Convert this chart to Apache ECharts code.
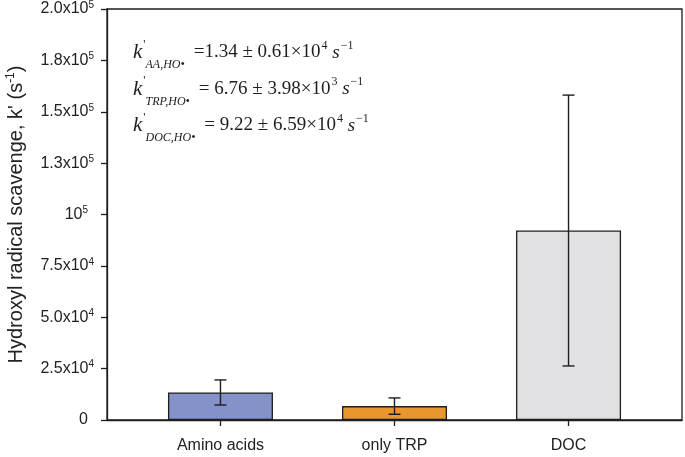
<!DOCTYPE html>
<html>
<head>
<meta charset="utf-8">
<script src="https://cdn.jsdelivr.net/npm/echarts@6/dist/echarts.min.js"></script>
<style>html,body{margin:0;padding:0;background:#fff;}#c{width:685px;height:457px;}</style>
</head>
<body>
<div id="c"></div>
<script>
// ---- data ----
var categories = ['Amino acids', 'only TRP', 'DOC'];
var values = [13400, 6760, 92200];
var errors = [6100, 3980, 65900];
var barColors = ['#8591c9', '#e8962e', '#e1e1e3'];
var yTickValues = [0, 25000, 50000, 75000, 100000, 125000, 150000, 175000, 200000];
var yTickMant = ['0', '2.5x10', '5.0x10', '7.5x10', '10', '1.3x10', '1.5x10', '1.8x10', '2.0x10'];
var yTickExp = ['', '4', '4', '4', '5', '5', '5', '5', '5'];
var annSub = ['AA,HO•', 'TRP,HO•', 'DOC,HO•'];
var annMain = ['=1.34 ± 0.61×10', '= 6.76 ± 3.98×10', '= 9.22 ± 6.59×10'];
var annExp = ['4', '3', '4'];

var chart = echarts.init(document.getElementById('c'), null, {renderer: 'canvas'});

var barData = values.map(function (v, i) {
  return {value: [i + 1, v], itemStyle: {color: barColors[i]}};
});
var errData = values.map(function (v, i) {
  return [i + 1, v - errors[i], v + errors[i]];
});

var ink = '#1e1e1e';
var sans = 'Liberation Sans, Arial, sans-serif';
var serif = 'Liberation Serif, Times New Roman, serif';

var annGraphics = annSub.map(function (s, i) {
  return {
    type: 'text',
    left: 133,
    top: 34 + i * 36.5,
    style: {
      text: '{k|k}{pr|\'}{sub|' + s + '}{m|' + annMain[i] + '}{sp|' + annExp[i] + '}{gap| }{s|s}{sp|−1}',
      rich: {
        k: {fontFamily: serif, fontStyle: 'italic', fontSize: 21, lineHeight: 24, fill: ink},
        pr: {fontFamily: serif, fontSize: 12, lineHeight: 12, padding: [0, 0, 16, 1], fill: ink},
        sub: {fontFamily: serif, fontStyle: 'italic', fontSize: 12, lineHeight: 12, padding: [25, 0, 0, 0], fill: ink},
        m: {fontFamily: serif, fontSize: 19, lineHeight: 24, padding: [0, 0, 0, 9], fill: ink},
        gap: {fontFamily: serif, fontSize: 19, lineHeight: 24, fill: ink},
        sp: {fontFamily: serif, fontSize: 12, lineHeight: 12, padding: [0, 0, 14, 1], fill: ink},
        s: {fontFamily: serif, fontStyle: 'italic', fontSize: 19, lineHeight: 24, fill: ink}
      }
    }
  };
});

var option = {
  animation: false,
  backgroundColor: '#ffffff',
  grid: {
    left: 107, right: 3, top: 9, bottom: 37,
    outerBoundsMode: 'none', containLabel: false,
    show: true, borderColor: ink, borderWidth: 1.3, backgroundColor: 'transparent'
  },
  xAxis: {
    type: 'value',
    min: 0.348, max: 3.652,
    splitLine: {show: false},
    axisLine: {show: true, lineStyle: {color: ink, width: 1.3}},
    axisTick: {show: true, customValues: [1, 2, 3], length: 6, inside: false, lineStyle: {color: ink, width: 1.3}},
    axisLabel: {
      customValues: [1, 2, 3],
      margin: 18,
      fontFamily: sans, fontSize: 16, color: '#222',
      formatter: function (v) { return categories[Math.round(v) - 1]; }
    }
  },
  yAxis: {
    type: 'value',
    min: 0, max: 200000, interval: 25000,
    splitLine: {show: false},
    axisLine: {show: true, lineStyle: {color: ink, width: 1.3}},
    axisTick: {show: true, length: 6, inside: false, lineStyle: {color: ink, width: 1.3}},
    axisLabel: {
      margin: 13,
      formatter: function (v) {
        var i = yTickValues.indexOf(v);
        if (i < 0) return '';
        var txt = '{b|' + yTickMant[i] + '}' + (yTickExp[i] ? '{sp|' + yTickExp[i] + '}' : '');
        if (yTickMant[i].indexOf('x') < 0) txt += '{pad|}';
        return txt;
      },
      rich: {
        b: {fontFamily: sans, fontSize: 16, lineHeight: 17, color: '#222'},
        sp: {fontFamily: sans, fontSize: 10, lineHeight: 10, padding: [0, 0, 8, 0], color: '#222'},
        pad: {width: 6}
      }
    },
    name: '{b|Hydroxyl radical scavenge, k\' (s}{sp|-1}{b|)}',
    nameLocation: 'middle',
    nameGap: 80,
    nameTextStyle: {
      rich: {
        b: {fontFamily: sans, fontSize: 20, lineHeight: 22, color: '#222'},
        sp: {fontFamily: sans, fontSize: 12, lineHeight: 12, padding: [0, 0, 11, 0], color: '#222'}
      }
    }
  },
  series: [
    {
      type: 'bar',
      data: barData,
      barWidth: 105,
      itemStyle: {borderColor: ink, borderWidth: 1.3},
      z: 2
    },
    {
      type: 'custom',
      data: errData,
      z: 3,
      renderItem: function (params, api) {
        var x = api.value(0);
        var lo = api.coord([x, api.value(1)]);
        var hi = api.coord([x, api.value(2)]);
        var cap = 6;
        var st = {stroke: ink, lineWidth: 1.4};
        return {
          type: 'group',
          children: [
            {type: 'line', shape: {x1: lo[0], y1: lo[1], x2: hi[0], y2: hi[1]}, style: st},
            {type: 'line', shape: {x1: hi[0] - cap, y1: hi[1], x2: hi[0] + cap, y2: hi[1]}, style: st},
            {type: 'line', shape: {x1: lo[0] - cap, y1: lo[1], x2: lo[0] + cap, y2: lo[1]}, style: st}
          ]
        };
      }
    }
  ],
  graphic: annGraphics
};
chart.setOption(option);
</script>
</body>
</html>
